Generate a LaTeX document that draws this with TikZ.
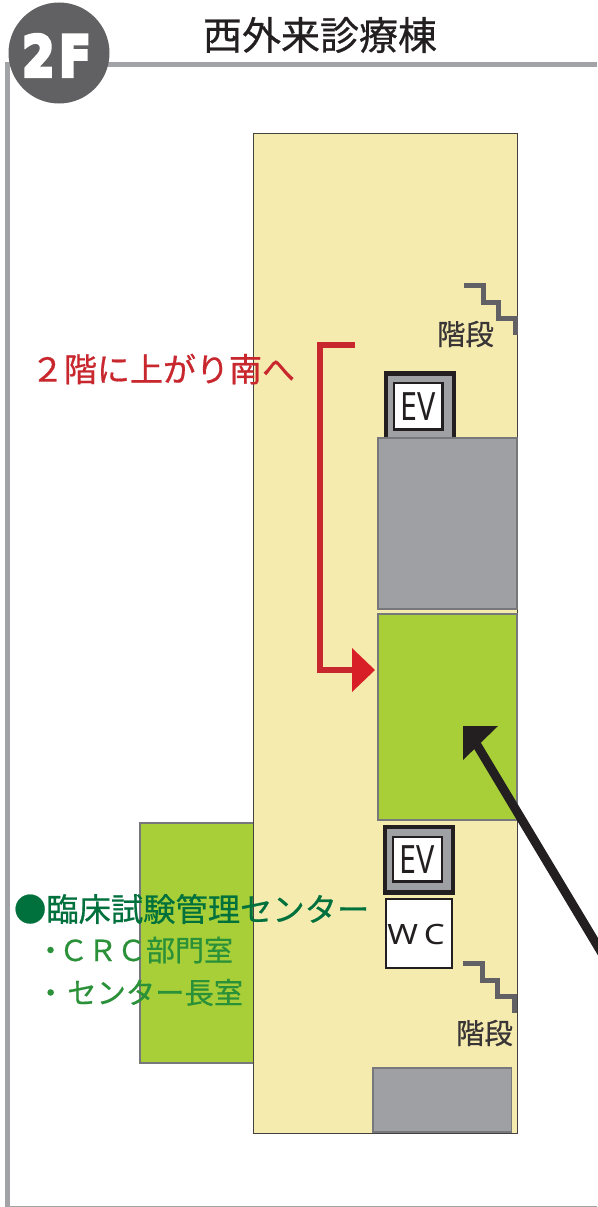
\documentclass[tikz,border=0pt]{standalone}
\usepackage{fontspec}
\setmainfont{Noto Sans CJK JP}
\newfontfamily\mediumfont{Noto Sans CJK JP}[FakeBold=0.6]
\newfontfamily\evfont{Noto Sans}
\newfontfamily\badgefont{DejaVu Sans Bold}[FakeBold=7]
\definecolor{floor}{HTML}{F5EBAF}
\definecolor{leaf}{HTML}{A8CF38}
\definecolor{roomgray}{HTML}{9EA0A3}
\definecolor{framegray}{HTML}{A2A3A7}
\definecolor{edgegray}{HTML}{77787B}
\definecolor{badge}{HTML}{616163}
\definecolor{ink}{HTML}{231F20}
\definecolor{stair}{HTML}{616165}
\definecolor{redline}{HTML}{C8272E}
\definecolor{redhead}{HTML}{D81F27}
\definecolor{darkgreen}{HTML}{00703C}
\definecolor{midgreen}{HTML}{2A9139}
\tikzset{
  room/.style={draw=edgegray,line width=1.5pt},
  label/.style={inner sep=0pt,outer sep=0pt,anchor=west},
  stairline/.style={draw=stair,line width=5pt,miter limit=10},
  evouter/.style={draw=ink,fill=roomgray,line width=4.5pt},
  evinner/.style={draw=ink,fill=white,line width=2.5pt},
  evtext/.style={inner sep=0pt,font=\evfont\fontsize{39}{39}\selectfont,xscale=.78,text=ink}
}
\begin{document}
\begin{tikzpicture}[x=1pt,y=-1pt]
\useasboundingbox (0,0) rectangle (597,1207);
\fill[white] (0,0) rectangle (597,1207);
% frame
\draw[framegray,line width=5pt] (7.5,1207) -- (7.5,64.5) -- (597,64.5);
\draw[framegray,line width=1pt] (7.5,1206.5) -- (597,1206.5);
% badge
\fill[badge] (59,53) circle (50.5);
\node[inner sep=0pt,text=white,font=\badgefont\fontsize{56}{56}\selectfont,xscale=.82] (badgetext) at (56.5,55.5) {2\kern6pt F};
\node[label,font=\mediumfont\fontsize{39}{39}\selectfont,text=ink] (title) at (203,35) {西外来診療棟};
% building
\fill[floor] (253,133) rectangle (517,1133);
\fill[leaf] (139.5,822.5) rectangle (253,1062.5);
\draw[draw=edgegray,line width=2pt] (253,822.5) -- (139.5,822.5) -- (139.5,1062.5) -- (253,1062.5);
\draw[draw=ink!85,line width=1pt] (253,133) rectangle (517,1133);
% rooms
\draw[room,fill=roomgray] (378,438) rectangle (517,609);
\draw[room,fill=leaf] (378,614) rectangle (517,820);
\draw[room,fill=roomgray] (373,1068) rectangle (511.5,1132);
% EV 1
\path[fill=roomgray] (385.5,373) rectangle (454,437);
\draw[draw=ink,line width=4.5pt] (386,437) -- (386,373.5) -- (454,373.5) -- (454,437);
\draw[evinner] (394,383) rectangle (442.5,429.5);
\node[evtext] (ev1) at (418.5,407) {EV};
% EV 2
\draw[evouter] (385,827) rectangle (453,892.5);
\draw[evinner] (393,837) rectangle (442,881.5);
\node[evtext] (ev2) at (417.5,860) {EV};
% WC
\draw[draw=ink,fill=white,line width=2pt] (386,899) rectangle (451.5,967.5);
\node[inner sep=0pt,font=\evfont\fontsize{28}{28}\selectfont,text=ink,xscale=1.18] (wc) at (416,934) {W\kern5pt C};
% stairs
\draw[stairline] (464,285) -- (483,285) -- (483,302) -- (498,302) -- (498,318) -- (515,318) -- (515,335);
\draw[stairline] (463,963) -- (482,963) -- (482,980) -- (497,980) -- (497,996) -- (514,996) -- (514,1013);
\node[label,font=\mediumfont\fontsize{28.5}{28.5}\selectfont,text=ink!90] (stairs1) at (437,334) {階段};
\node[label,font=\mediumfont\fontsize{28.5}{28.5}\selectfont,text=ink!90] (stairs2) at (456,1033) {階段};
% red route
\coordinate (rstart) at (355,345);
\coordinate (rc1) at (320,345);
\coordinate (rc2) at (320,670);
\coordinate (rend) at (356,670);
\draw[redline,line width=6pt] (rstart) -- (rc1) -- (rc2) -- (rend);
\fill[redhead] (352,648) -- (375,670) -- (352,692) -- cycle;
\node[label,font=\mediumfont\fontsize{33}{33}\selectfont,text=redline] (route) at (31,369) {２階に上がり南へ};
% black arrow
\coordinate (bstart) at (603,955);
\coordinate (bend) at (477,745);
\draw[ink,line width=9pt] (bstart) -- (bend);
\fill[ink] (463,726) -- (498,726) -- (463,760) -- cycle;
% green texts
\node[label,font=\mediumfont\fontsize{32.3}{32.3}\selectfont,text=darkgreen] (centre) at (14,909) {●臨床試験管理センター};
\node[label,font=\mediumfont\fontsize{29}{29}\selectfont,text=midgreen] (crc) at (36,950) {・\kern-6pt ＣＲＣ部門室};
\node[label,font=\mediumfont\fontsize{29.3}{29.3}\selectfont,text=midgreen] (head) at (36,992.5) {・\kern2pt センター長室};
\end{tikzpicture}
\end{document}
